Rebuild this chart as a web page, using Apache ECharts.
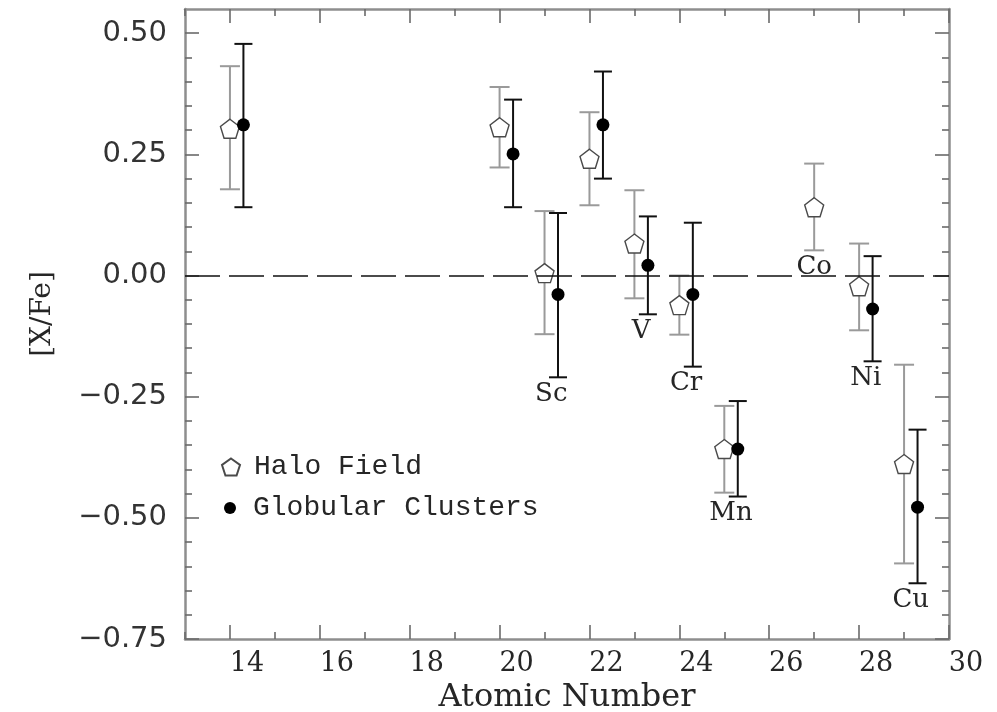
<!DOCTYPE html>
<html><head><meta charset="utf-8">
<script src="https://cdn.jsdelivr.net/npm/echarts@6/dist/echarts.min.js"></script>
<style>html,body{margin:0;padding:0;background:#fff}#c{width:997px;height:712px}</style>
</head><body><div id="c"></div>
<script>
const atomicNumbers = [14, 20, 21, 22, 23, 24, 25, 27, 28, 29];
const elementNames = ['Si', 'Ca', 'Sc', 'Ti', 'V', 'Cr', 'Mn', 'Co', 'Ni', 'Cu'];
const labelledElements = ['Sc', 'V', 'Cr', 'Mn', 'Co', 'Ni', 'Cu'];
const haloValues = [0.303, 0.306, 0.005, 0.241, 0.066, -0.061, -0.358, 0.141, -0.022, -0.389];
const haloLow    = [0.178, 0.223, -0.121, 0.145, -0.047, -0.122, -0.448, 0.052, -0.113, -0.594];
const haloHigh   = [0.432, 0.389, 0.133, 0.337, 0.176, 0.000, -0.269, 0.231, 0.066, -0.184];
const gcValues = [0.311, 0.251, -0.039, 0.311, 0.021, -0.039, -0.358, null, -0.069, -0.478];
const gcLow    = [0.141, 0.141, -0.210, 0.200, -0.080, -0.188, -0.456, null, -0.177, -0.635];
const gcHigh   = [0.478, 0.363, 0.129, 0.421, 0.122, 0.109, -0.259, null, 0.040, -0.318];
const xMajorTicks = [14, 16, 18, 20, 22, 24, 26, 28, 30];
const xMinorTicks = [13, 15, 17, 19, 21, 23, 25, 27, 29];
const yMajorTicks = [-0.75, -0.50, -0.25, 0.00, 0.25, 0.50];
const yMinorTicks = [-0.70, -0.65, -0.60, -0.55, -0.45, -0.40, -0.35, -0.30, -0.20, -0.15, -0.10, -0.05,
                     0.05, 0.10, 0.15, 0.20, 0.30, 0.35, 0.40, 0.45];

const GC_OFFSET = 0.3;
const X_MIN = 13, X_MAX = 30, Y_MIN = -0.75, Y_MAX = 0.55;
const FRAME = '#8e8e8e', TICK = '#6a6a6a', TEXT = '#262626';

const haloErr = [], gcErr = [], haloPts = [], gcPts = [], labelPts = [];
atomicNumbers.forEach((z, i) => {
  haloErr.push([z, haloLow[i], haloHigh[i]]);
  haloPts.push([z, haloValues[i]]);
  const xs = [z], lows = [haloLow[i]];
  if (gcValues[i] !== null) {
    gcErr.push([z + GC_OFFSET, gcLow[i], gcHigh[i]]);
    gcPts.push([z + GC_OFFSET, gcValues[i]]);
    xs.push(z + GC_OFFSET); lows.push(gcLow[i]);
  }
  if (labelledElements.includes(elementNames[i])) {
    labelPts.push({ value: [xs.reduce((a, b) => a + b, 0) / xs.length, Math.min(...lows)], name: elementNames[i] });
  }
});

function xAxis(position, ticks, len, line, labels) {
  return {
    type: 'value', position, min: X_MIN, max: X_MAX,
    axisLine: { show: line, onZero: false, lineStyle: { color: FRAME, width: 2.5 } },
    axisTick: { show: true, inside: true, length: len, customValues: ticks, lineStyle: { color: TICK, width: 1.6 } },
    axisLabel: labels ? {
      show: true, customValues: ticks, margin: 11, color: TEXT,
      fontFamily: 'DejaVu Serif', fontSize: 27, padding: [0, 0, 0, 34]
    } : { show: false },
    splitLine: { show: false }
  };
}
function yAxis(position, ticks, len, line, labels) {
  return {
    type: 'value', position, min: Y_MIN, max: Y_MAX,
    axisLine: { show: line, onZero: false, lineStyle: { color: FRAME, width: 2.5 } },
    axisTick: { show: true, inside: true, length: len, customValues: ticks, lineStyle: { color: TICK, width: 1.6 } },
    axisLabel: labels ? {
      show: true, customValues: ticks, margin: 18, color: '#333',
      fontFamily: 'DejaVu Sans', fontSize: 29,
      formatter: v => v.toFixed(2).replace('-', '\u2212')
    } : { show: false },
    splitLine: { show: false }
  };
}

const xs = [
  xAxis('bottom', xMajorTicks, 14, true, true),
  xAxis('bottom', xMinorTicks, 7, false, false),
  xAxis('top', xMajorTicks, 14, true, false),
  xAxis('top', xMinorTicks, 7, false, false)
];
xs[0].name = 'Atomic Number';
xs[0].nameLocation = 'middle';
xs[0].nameGap = 40;
xs[0].nameTextStyle = { fontFamily: 'DejaVu Serif', fontSize: 32, color: TEXT };

const ys = [
  yAxis('left', yMajorTicks, 14, true, true),
  yAxis('left', yMinorTicks, 7, false, false),
  yAxis('right', yMajorTicks, 14, true, false),
  yAxis('right', yMinorTicks, 7, false, false)
];
ys[0].name = '[X/Fe]';
ys[0].nameLocation = 'middle';
ys[0].nameGap = 128;
ys[0].nameTextStyle = { fontFamily: 'DejaVu Serif', fontSize: 28, color: TEXT, padding: [0, 0, 0, 20] };

function errRender(color, cap) {
  return function (params, api) {
    const x = api.value(0), lo = api.value(1), hi = api.value(2);
    const p1 = api.coord([x, lo]), p2 = api.coord([x, hi]);
    const style = { stroke: color, lineWidth: 2, fill: null };
    return {
      type: 'group', children: [
        { type: 'line', shape: { x1: p1[0], y1: p1[1], x2: p2[0], y2: p2[1] }, style },
        { type: 'line', shape: { x1: p1[0] - cap, y1: p1[1], x2: p1[0] + cap, y2: p1[1] }, style },
        { type: 'line', shape: { x1: p2[0] - cap, y1: p2[1], x2: p2[0] + cap, y2: p2[1] }, style }
      ]
    };
  };
}

const PENTAGON = 'path://M0,-10L9.51,-3.09L5.88,8.09L-5.88,8.09L-9.51,-3.09Z';
const legendText = { fontFamily: 'Liberation Mono', fontSize: 28, color: TEXT, lineHeight: 30 };

const option = {
  animation: false,
  backgroundColor: '#fff',
  grid: { left: 185, right: 48, top: 9, bottom: 73, containLabel: false, outerBoundsMode: 'none' },
  xAxis: xs,
  yAxis: ys,
  legend: [
    { data: ['Halo Field'], orient: 'vertical', left: 221, top: 452, padding: 0,
      itemWidth: 18, itemHeight: 18, textStyle: Object.assign({ padding: [0, 0, 0, 9] }, legendText), selectedMode: false },
    { data: ['Globular Clusters'], orient: 'vertical', left: 224, top: 493, padding: 0,
      itemWidth: 12, itemHeight: 12, textStyle: Object.assign({ padding: [0, 0, 0, 12] }, legendText), selectedMode: false }
  ],
  series: [
    { type: 'custom', name: 'haloErr', xAxisIndex: 0, yAxisIndex: 0, renderItem: errRender('#9a9a9a', 10),
      data: haloErr, encode: { x: 0, y: [1, 2] }, silent: true, z: 2 },
    { type: 'custom', name: 'gcErr', xAxisIndex: 0, yAxisIndex: 0, renderItem: errRender('#111', 9),
      data: gcErr, encode: { x: 0, y: [1, 2] }, silent: true, z: 2 },
    { type: 'scatter', name: 'Halo Field', xAxisIndex: 0, yAxisIndex: 0, data: haloPts,
      symbol: PENTAGON, symbolSize: 19,
      itemStyle: { color: '#fff', borderColor: '#4a4a4a', borderWidth: 1.4, opacity: 1 }, z: 4,
      markLine: { silent: true, symbol: 'none', label: { show: false },
        lineStyle: { color: '#111', width: 1.6, type: [35, 9] }, data: [{ yAxis: 0 }] } },
    { type: 'scatter', name: 'Globular Clusters', xAxisIndex: 0, yAxisIndex: 0, data: gcPts,
      symbol: 'circle', symbolSize: 13, itemStyle: { color: '#000', opacity: 1 }, z: 5 },
    { type: 'scatter', name: 'labels', xAxisIndex: 0, yAxisIndex: 0, data: labelPts,
      symbol: 'circle', symbolSize: 1, itemStyle: { color: 'rgba(0,0,0,0)' }, silent: true, z: 6,
      label: { show: true, position: 'bottom', distance: 3, formatter: p => p.name,
        fontFamily: 'DejaVu Serif', fontSize: 26, color: TEXT, opacity: 1 } }
  ]
};
const chart = echarts.init(document.getElementById('c'), null, { renderer: 'canvas' });
chart.setOption(option);
</script></body></html>
